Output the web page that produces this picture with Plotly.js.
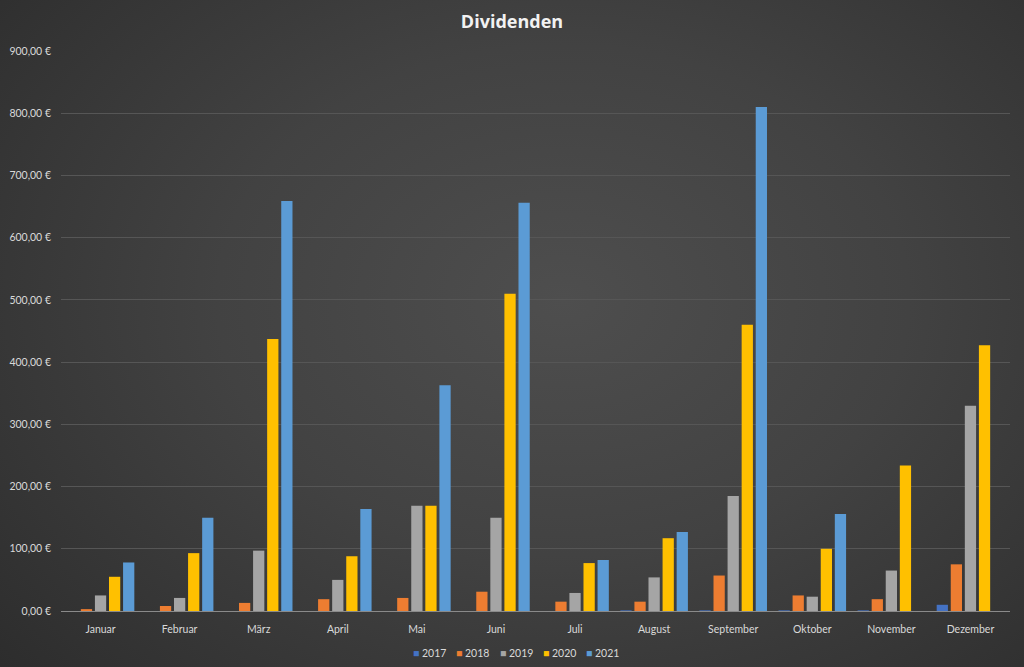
<!DOCTYPE html>
<html>
<head>
<meta charset="utf-8">
<script src="https://cdn.plot.ly/plotly-3.0.1.min.js"></script>
<style>
html,body{margin:0;padding:0;width:1024px;height:667px;overflow:hidden;}
#chart{width:1024px;height:667px;background:radial-gradient(ellipse 75% 85% at 55% 45%, #4e4e4e 0%, #424242 45%, #2c2c2c 100%);}
</style>
</head>
<body>
<div id="chart"></div>
<script>
var months = ["Januar","Februar","März","April","Mai","Juni","Juli","August","September","Oktober","November","Dezember"];
var years = ["2017","2018","2019","2020","2021"];
var v2017 = [0, 0, 0, 0, 0, 0, 0, 1, 1, 1, 1, 10];
var v2018 = [3, 8, 13, 19, 21, 31, 15, 15, 57, 25, 19, 75];
var v2019 = [25, 21, 97, 50, 169, 150, 29, 54, 185, 23, 65, 330];
var v2020 = [55, 93, 437, 88, 169, 510, 77, 117, 460, 100, 234, 427];
var v2021 = [78, 150, 659, 164, 363, 656, 82, 127, 810, 156, null, null];
var colors = ["#4472C4", "#ED7D31", "#A5A5A5", "#FFC000", "#5B9BD5"];
var series = [v2017, v2018, v2019, v2020, v2021];

var traces = series.map(function(vals, i){
  return {
    type: "bar",
    name: years[i],
    x: months,
    y: vals,
    marker: {color: colors[i], line: {width: 0}},
    hoverinfo: "none",
    showlegend: false
  };
});

// legend drawn as text entries below the plot
var plotL = 61, plotR = 1010, plotW = plotR - plotL;
var legendAnn = years.map(function(y, i){
  var cx = 516 + (i - 2) * 43.3;
  return {
    xref: "paper", yref: "paper",
    x: (cx - plotL) / plotW, y: -0.075,
    xanchor: "center", yanchor: "middle",
    showarrow: false,
    text: '<span style="color:' + colors[i] + '">■</span> ' + y,
    font: {size: 10.5, color: "#d9d9d9"}
  };
});

var layout = {
  width: 1024, height: 667,
  paper_bgcolor: "rgba(0,0,0,0)",
  plot_bgcolor: "rgba(0,0,0,0)",
  separators: ",.",
  font: {family: "Lato, 'Open Sans', sans-serif", color: "#d9d9d9", size: 10},
  title: {text: "Dividenden", x: 0.5, xanchor: "center", y: 0.968, yanchor: "middle",
          font: {family: "'Open Sans', sans-serif", size: 18, color: "#f2f2f2", weight: "bold"}},
  margin: {l: plotL, r: 1024 - plotR, t: 51, b: 56, pad: 0},
  barmode: "group",
  bargap: 0.11,
  bargroupgap: 0.2,
  xaxis: {
    type: "category",
    showgrid: false,
    showline: true, linecolor: "#8a8a8a", linewidth: 1,
    ticks: "", ticklabelstandoff: 8,
    tickfont: {size: 10.5, color: "#d9d9d9"},
    zeroline: false
  },
  yaxis: {
    range: [0, 900],
    dtick: 100,
    tickformat: ",.2f",
    ticksuffix: " €",
    showgrid: true, gridcolor: "#565656", gridwidth: 1,
    zeroline: false, showline: false,
    ticks: "", ticklabelstandoff: 9,
    tickfont: {size: 10.5, color: "#d9d9d9"}
  },
  showlegend: false,
  annotations: legendAnn
};

Plotly.newPlot("chart", traces, layout, {displayModeBar: false, staticPlot: true});
</script>
</body>
</html>
